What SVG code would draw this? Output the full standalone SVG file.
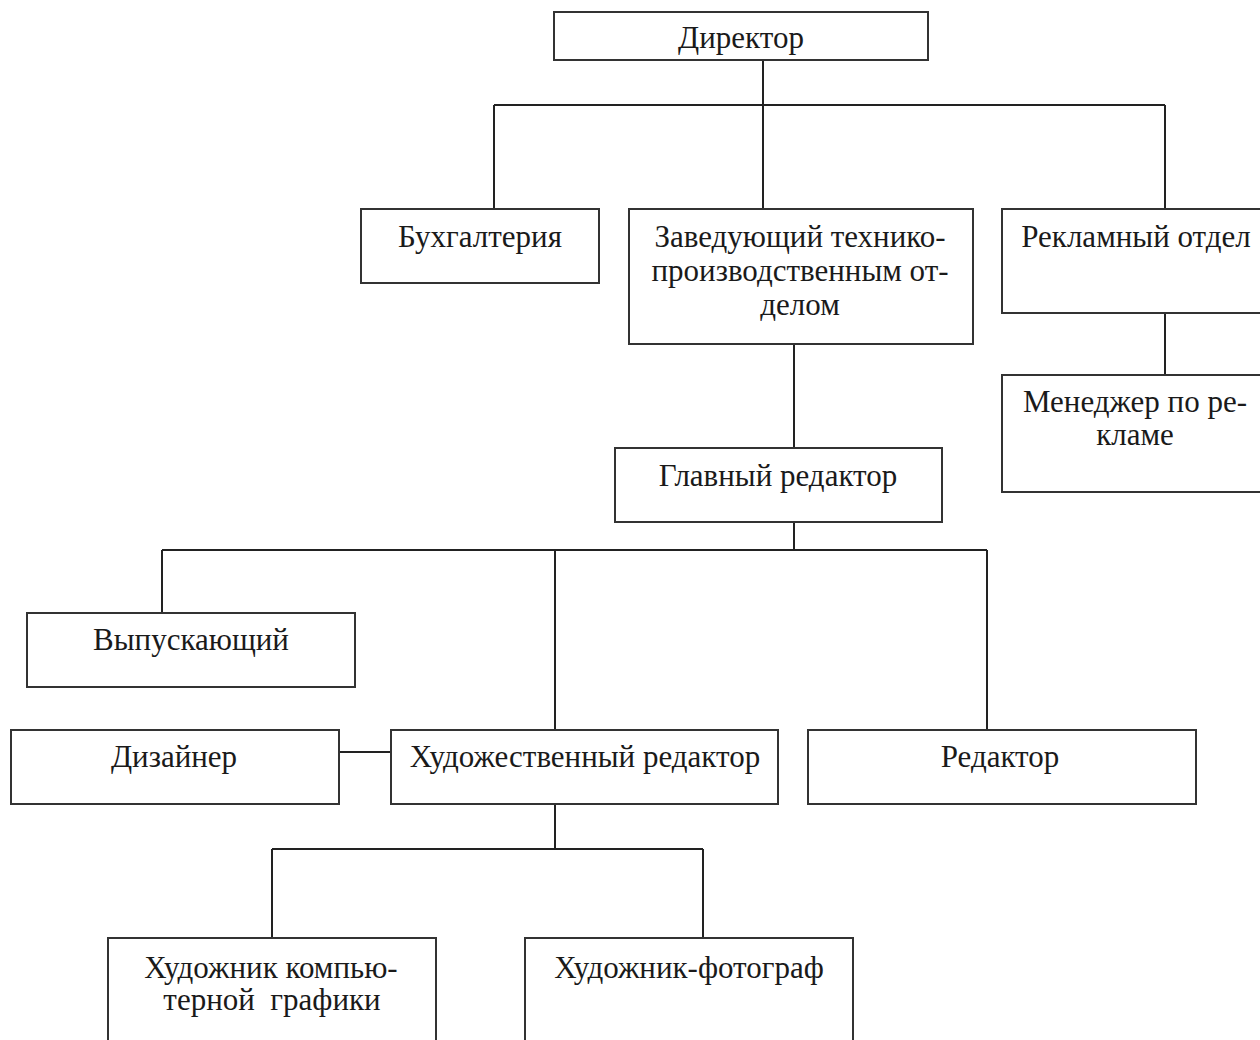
<svg xmlns="http://www.w3.org/2000/svg" width="1260" height="1040" viewBox="0 0 1260 1040">
<style>
rect{fill:#fff;stroke:#333;stroke-width:2}
.c line{stroke:#222;stroke-width:2}
text{font-family:"Liberation Serif","Times New Roman",serif;font-size:31px;fill:#1a1a1a;text-anchor:middle}
</style>
<rect x="0" y="0" width="1260" height="1040" style="stroke:none"/>
<g class="c" id="connectors">
<line x1="763" y1="60" x2="763" y2="209"/>
<line x1="494" y1="105" x2="1165" y2="105"/>
<line x1="494" y1="105" x2="494" y2="209"/>
<line x1="1165" y1="105" x2="1165" y2="209"/>
<line x1="1165" y1="313" x2="1165" y2="375"/>
<line x1="794" y1="344" x2="794" y2="448"/>
<line x1="794" y1="507" x2="794" y2="550"/>
<line x1="162" y1="550" x2="987" y2="550"/>
<line x1="162" y1="550" x2="162" y2="613"/>
<line x1="555" y1="550" x2="555" y2="730"/>
<line x1="987" y1="550" x2="987" y2="730"/>
<line x1="339" y1="752" x2="391" y2="752"/>
<line x1="555" y1="804" x2="555" y2="849"/>
<line x1="272" y1="849" x2="703" y2="849"/>
<line x1="272" y1="849" x2="272" y2="938"/>
<line x1="703" y1="849" x2="703" y2="938"/>
</g>
<g id="director"><rect x="554" y="12" width="374" height="48"/><text x="741" y="48">Директор</text></g>
<g id="buh"><rect x="361" y="209" width="238" height="74"/><text x="480" y="247">Бухгалтерия</text></g>
<g id="zav"><rect x="629" y="209" width="344" height="135"/><text x="800" y="247">Заведующий технико-</text><text x="800" y="281">производственным от-</text><text x="800" y="315">делом</text></g>
<g id="reklama"><rect x="1002" y="209" width="270" height="104"/><text x="1136" y="247">Рекламный отдел</text></g>
<g id="manager"><rect x="1002" y="375" width="270" height="117"/><text x="1135" y="412">Менеджер по ре-</text><text x="1135" y="445">кламе</text></g>
<g id="glavred"><rect x="615" y="448" width="327" height="74"/><text x="778" y="486">Главный редактор</text></g>
<g id="vypusk"><rect x="27" y="613" width="328" height="74"/><text x="191" y="650">Выпускающий</text></g>
<g id="designer"><rect x="11" y="730" width="328" height="74"/><text x="174" y="767">Дизайнер</text></g>
<g id="hudred"><rect x="391" y="730" width="387" height="74"/><text x="585" y="767">Художественный редактор</text></g>
<g id="redaktor"><rect x="808" y="730" width="388" height="74"/><text x="1000" y="767">Редактор</text></g>
<g id="hudcomp"><rect x="108" y="938" width="328" height="120"/><text x="271" y="978">Художник компью-</text><text x="272" y="1010" xml:space="preserve">терной  графики</text></g>
<g id="hudfoto"><rect x="525" y="938" width="328" height="120"/><text x="689" y="978">Художник-фотограф</text></g>
</svg>
